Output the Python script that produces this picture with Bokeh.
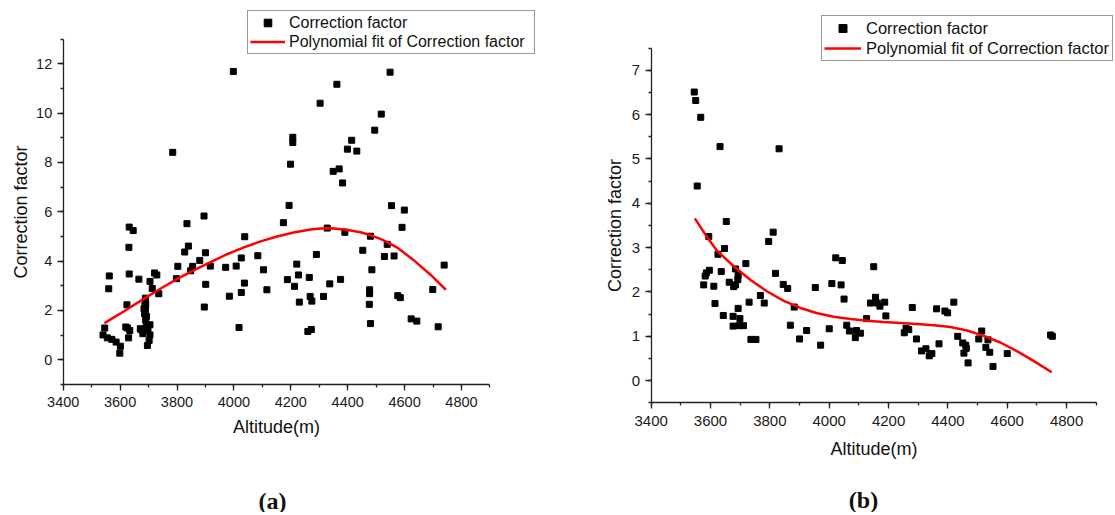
from bokeh.plotting import figure
from bokeh.models import (Range1d, SingleIntervalTicker, Legend, LegendItem,
                          Label, ColumnDataSource)
from bokeh.layouts import row
from bokeh.embed import file_html
from bokeh.resources import INLINE

# ---------------- data ----------------
a_alt = [3998, 4549, 4362, 4303, 4518, 4495, 4414, 4207, 4207, 4399, 4432, 3785,
         4199, 4370, 4349, 4382, 4194, 4554, 4599, 3895, 4174, 3835, 3632, 4591,
         3646, 4328, 4390, 4038, 4480, 4539, 3631, 4453, 3840, 3827, 3900, 4290,
         4084, 4529, 4563, 4026, 3880, 4739, 4221, 3803, 3855, 4008, 3917, 3971,
         3848, 4104, 4485, 3562, 3632, 3721, 3729, 4227, 3798, 3666, 4265, 4375,
         4188, 3705, 4037, 4337, 3901, 4213, 3560, 3713, 4116, 4699, 4477, 4477,
         3736, 4026, 3984, 4315, 4268, 4576, 4585, 4274, 3689, 4230, 4476, 3624,
         3690, 3896, 3684, 3686, 3690, 4623, 4643, 4480, 3705, 3692, 4018, 4718,
         3620, 3626, 3546, 4272, 4260, 3634, 3671, 3686, 3698, 3680, 3705, 3540,
         3555, 3630, 3571, 3586, 3702, 3601, 3696, 3599, 3693, 3674, 3695, 3689,
         3687]
a_cf = [11.69, 11.66, 11.17, 10.40, 9.96, 9.31, 8.90, 9.02, 8.81, 8.54, 8.46, 8.41,
        7.93, 7.74, 7.64, 7.17, 6.26, 6.25, 6.07, 5.83, 5.56, 5.52, 5.38, 5.37,
        5.24, 5.34, 5.17, 4.99, 5.01, 4.68, 4.56, 4.44, 4.61, 4.37, 4.34, 4.27,
        4.22, 4.19, 4.21, 4.13, 4.03, 3.84, 3.88, 3.79, 3.79, 3.80, 3.80, 3.75,
        3.61, 3.65, 3.65, 3.40, 3.48, 3.52, 3.44, 3.44, 3.29, 3.27, 3.34, 3.26,
        3.25, 3.18, 3.11, 3.08, 3.06, 2.98, 2.88, 2.89, 2.84, 2.85, 2.84, 2.68,
        2.68, 2.73, 2.58, 2.57, 2.57, 2.60, 2.52, 2.38, 2.50, 2.34, 2.25, 2.23,
        2.25, 2.14, 2.07, 1.87, 1.62, 1.66, 1.57, 1.47, 1.42, 1.42, 1.31, 1.34,
        1.33, 1.29, 1.29, 1.23, 1.15, 1.19, 1.26, 1.26, 1.19, 1.06, 1.01, 1.01,
        0.89, 0.89, 0.83, 0.72, 0.78, 0.55, 0.58, 0.27, 1.76, 1.22, 1.26, 2.03,
        2.20]
a_fit_alt = [3545, 3600, 3683, 3740, 3801, 3860, 3918, 3976, 4035, 4094, 4152,
             4210, 4269, 4305, 4340, 4390, 4445, 4480, 4515, 4539, 4574, 4632,
             4691, 4745]
a_fit_cf = [1.49, 1.87, 2.47, 2.87, 3.28, 3.64, 3.96, 4.28, 4.56, 4.80, 5.00,
            5.16, 5.28, 5.32, 5.33, 5.28, 5.17, 5.05, 4.90, 4.77, 4.55, 4.04,
            3.45, 2.84]

b_alt = [3545, 3550, 3567, 3632, 3831, 3555, 3653, 3811, 3796, 3594, 3647, 3625,
         4022, 4044, 3719, 4150, 3596, 3684, 3636, 3586, 3582, 3819, 3693, 3692,
         3663, 3577, 3611, 3678, 3684, 3845, 4009, 4040, 3860, 3953, 3768, 4050,
         4156, 3615, 3730, 3781, 4139, 4162, 4187, 4171, 4420, 3882, 4280, 4362,
         4390, 4399, 3693, 3643, 3676, 4191, 3699, 4126, 3676, 3696, 3711, 3869,
         4059, 4000, 4068, 4092, 4105, 3924, 4088, 3900, 3736, 3753, 3971, 4253,
         4259, 4268, 4294, 4311, 4326, 4337, 4346, 4370, 4433, 4450, 4460, 4462,
         4454, 4468, 4504, 4514, 4535, 4528, 4541, 4552, 4600, 4746, 4752]
b_cf = [6.51, 6.32, 5.94, 5.28, 5.23, 4.39, 3.59, 3.35, 3.14, 3.25, 2.98, 2.85,
        2.77, 2.71, 2.64, 2.57, 2.49, 2.52, 2.46, 2.43, 2.36, 2.42, 2.37, 2.28,
        2.22, 2.16, 2.13, 2.12, 2.16, 2.17, 2.19, 2.16, 2.08, 2.10, 1.92, 1.84,
        1.88, 1.74, 1.77, 1.75, 1.75, 1.75, 1.77, 1.68, 1.77, 1.66, 1.65, 1.62,
        1.57, 1.53, 1.63, 1.47, 1.45, 1.46, 1.40, 1.40, 1.23, 1.24, 1.24, 1.25,
        1.25, 1.17, 1.12, 1.13, 1.07, 1.13, 0.97, 0.94, 0.93, 0.93, 0.80, 1.08,
        1.18, 1.15, 0.94, 0.67, 0.72, 0.56, 0.61, 0.83, 1.00, 0.85, 0.80, 0.73,
        0.62, 0.40, 0.94, 1.12, 0.92, 0.75, 0.64, 0.32, 0.61, 1.03, 1.00]
b_fit_alt = [3547, 3585, 3622, 3678, 3735, 3791, 3847, 3903, 3960, 4015, 4072,
             4128, 4184, 4240, 4296, 4352, 4409, 4465, 4521, 4577, 4634, 4690,
             4750]
b_fit_cf = [3.66, 3.27, 2.93, 2.58, 2.27, 2.01, 1.80, 1.64, 1.52, 1.44, 1.39,
            1.35, 1.32, 1.30, 1.28, 1.25, 1.21, 1.13, 1.01, 0.86, 0.66, 0.44,
            0.19]

SANS = "Liberation Sans"
FIG_H = 512      # canvas height
TOP = 8          # frame top (px from canvas top)


def panel(alt, cf, fit_alt, fit_cf, y_lo_axis, y_hi_axis, y_step,
          width, axis_x_px, axis_y_px, px_per_x, px_per_y,
          tick_fs, leg_fs, leg_box_left, leg_box_bottom,
          glyph_w, lab_w, row_h, lab_standoff, ylab_standoff,
          xtick_standoff, xlab_standoff, caption, cap_px_x, cap_px_y):
    frame_w = width
    frame_h = FIG_H - TOP
    # data ranges chosen so that the axes sit where the reference has them
    x_lo = 3400.0 - axis_x_px / px_per_x
    x_hi = x_lo + frame_w / px_per_x
    y_lo = y_lo_axis - (FIG_H - axis_y_px) / px_per_y
    y_hi = y_lo + frame_h / px_per_y

    p = figure(width=width, height=FIG_H, output_backend="svg",
               toolbar_location=None, x_range=Range1d(x_lo, x_hi),
               y_range=Range1d(y_lo, y_hi), min_border_left=0,
               min_border_right=0, min_border_top=TOP, min_border_bottom=0)
    p.outline_line_color = None
    p.grid.visible = False
    p.background_fill_color = "white"
    p.border_fill_color = "white"

    p.xaxis.ticker = SingleIntervalTicker(interval=200, num_minor_ticks=2)
    p.yaxis.ticker = SingleIntervalTicker(interval=y_step, num_minor_ticks=2)
    p.xaxis.bounds = (3400, 4900)
    p.yaxis.bounds = (y_lo_axis, y_hi_axis)
    p.xaxis.fixed_location = y_lo_axis
    p.yaxis.fixed_location = 3400
    for ax in (p.xaxis[0], p.yaxis[0]):
        ax.axis_line_color = "#222222"
        ax.axis_line_width = 1.3
        ax.major_tick_line_color = "#222222"
        ax.minor_tick_line_color = "#222222"
        ax.major_tick_line_width = 1.3
        ax.minor_tick_line_width = 1.3
        ax.major_tick_in = 0
        ax.major_tick_out = 6
        ax.minor_tick_in = 0
        ax.minor_tick_out = 3
        ax.major_label_text_font = SANS
        ax.major_label_text_font_size = tick_fs
        ax.major_label_text_color = "#1a1a1a"
        ax.axis_label_text_font = SANS
        ax.axis_label_text_font_size = "18px"
        ax.axis_label_text_font_style = "normal"
        ax.axis_label_text_color = "#111111"
    p.xaxis.major_label_standoff = xtick_standoff
    p.yaxis.major_label_standoff = 5
    p.xaxis.axis_label = "Altitude(m)"
    p.yaxis.axis_label = "Correction factor"
    p.xaxis.axis_label_standoff = xlab_standoff
    p.yaxis.axis_label_standoff = ylab_standoff

    src = ColumnDataSource(dict(x=alt, y=cf))
    fsrc = ColumnDataSource(dict(x=fit_alt, y=fit_cf))
    r1 = p.scatter("x", "y", source=src, marker="square", size=6,
                   fill_color="black", line_color="black")
    r2 = p.line("x", "y", source=fsrc, line_color="#ff0000", line_width=2.5)

    leg = Legend(items=[LegendItem(label="Correction factor", renderers=[r1]),
                        LegendItem(label="Polynomial fit of Correction factor",
                                   renderers=[r2])],
                 location=(leg_box_left, FIG_H - leg_box_bottom),
                 margin=0, padding=2, spacing=0,
                 glyph_width=glyph_w, glyph_height=row_h, label_height=row_h,
                 label_width=lab_w, label_standoff=lab_standoff,
                 label_text_font=SANS, label_text_font_size=leg_fs,
                 label_text_color="#111111",
                 border_line_color="#333333", border_line_width=1,
                 background_fill_color="white", background_fill_alpha=1.0)
    p.add_layout(leg)

    p.add_layout(Label(x=cap_px_x, y=FIG_H - cap_px_y,
                       x_units="screen", y_units="screen",
                       text=caption, text_align="center",
                       text_baseline="middle", text_font="Liberation Serif",
                       text_font_style="bold", text_font_size="24px",
                       text_color="#111111"))
    return p


pa = panel(a_alt, a_cf, a_fit_alt, a_fit_cf, -1, 13, 2,
           560, 62.7, 384, 0.2845, 24.67,
           "14.5px", "16px", 247, 54,
           35, 243, 19, 4, 2, 6, 7,
           "(a)", 272, 500)
pb = panel(b_alt, b_cf, b_fit_alt, b_fit_cf, -0.5, 7.5, 1,
           553, 650.7 - 560, 402.3, 0.2967, 44.33,
           "15px", "16.5px", 821 - 560, 61,
           37, 244, 20, 5, 4, 7, 10,
           "(b)", 863 - 560, 499)

layout = row(pa, pb)
open("out.html", "w").write(file_html(layout, INLINE))
